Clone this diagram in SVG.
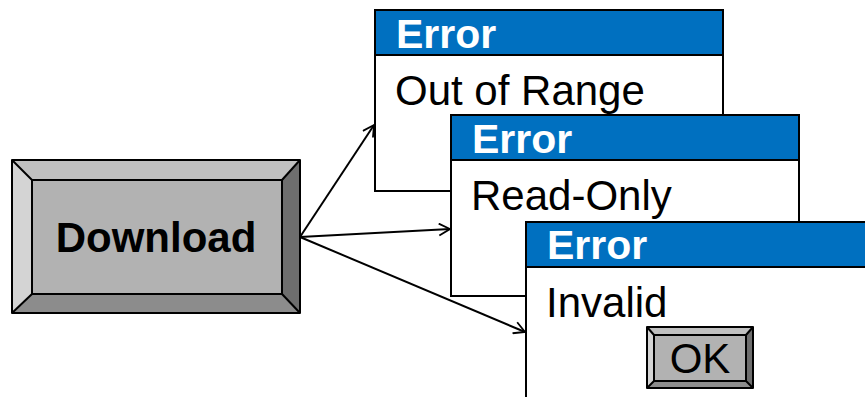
<svg xmlns="http://www.w3.org/2000/svg" width="865" height="397" viewBox="0 0 865 397">
<defs>
<style>
.win{fill:#fff;stroke:#000;stroke-width:2}
.bar{fill:#0070C0;stroke:#000;stroke-width:2}
.ttl{font-family:"Liberation Sans",Arial,sans-serif;font-weight:bold;font-size:41px;fill:#fff}
.msg{font-family:"Liberation Sans",Arial,sans-serif;font-size:42px;fill:#000}
.edge{stroke:#000;stroke-width:2;fill:none}
.bv{stroke:#000;stroke-width:2;stroke-linejoin:round}
</style>
<marker id="arr" markerWidth="14" markerHeight="14" refX="12" refY="7" orient="auto" markerUnits="userSpaceOnUse">
<path d="M1,1 L12,7 L1,13" fill="none" stroke="#000" stroke-width="1.8"/>
</marker>
</defs>
<g id="download">
<rect x="12" y="160" width="288" height="153" fill="#b2b2b2"/>
<polygon points="12,160 300,160 282,180 32,180" fill="#c0c0c0"/>
<polygon points="12,160 32,180 32,294 12,313" fill="#d4d4d4"/>
<polygon points="300,160 300,313 282,294 282,180" fill="#6e6e6e"/>
<polygon points="12,313 32,294 282,294 300,313" fill="#8c8c8c"/>
<g class="bv" fill="none">
<rect x="12" y="160" width="288" height="153"/>
<rect x="32" y="180" width="250" height="114"/>
<line x1="12" y1="160" x2="32" y2="180"/>
<line x1="300" y1="160" x2="282" y2="180"/>
<line x1="12" y1="313" x2="32" y2="294"/>
<line x1="300" y1="313" x2="282" y2="294"/>
</g>
<text x="156" y="252" text-anchor="middle" font-family="Liberation Sans,Arial,sans-serif" font-weight="bold" font-size="42">Download</text>
</g>
<g id="connectors">
<line class="edge" x1="300" y1="237" x2="374" y2="125" marker-end="url(#arr)"/>
<line class="edge" x1="300" y1="237" x2="450" y2="229" marker-end="url(#arr)"/>
<line class="edge" x1="300" y1="237" x2="525" y2="332" marker-end="url(#arr)"/>
</g>
<g id="error1">
<rect class="win" x="375" y="10" width="348" height="181"/>
<rect class="bar" x="375" y="10" width="348" height="45"/>
<text class="ttl" x="396" y="48">Error</text>
<text class="msg" x="395" y="105">Out of Range</text>
</g>
<g id="error2">
<rect class="win" x="451" y="115" width="348" height="181"/>
<rect class="bar" x="451" y="115" width="348" height="45"/>
<text class="ttl" x="472" y="153">Error</text>
<text class="msg" x="471" y="210">Read-Only</text>
</g>
<g id="error3">
<rect class="win" x="526" y="222" width="360" height="200"/>
<rect class="bar" x="526" y="222" width="360" height="45"/>
<text class="ttl" x="547" y="259">Error</text>
<text class="msg" x="546" y="317">Invalid</text>
<g id="ok">
<rect x="647" y="327" width="106" height="61" fill="#b2b2b2"/>
<polygon points="647,327 753,327 746,335 654,335" fill="#c0c0c0"/>
<polygon points="647,327 654,335 654,381 647,388" fill="#d4d4d4"/>
<polygon points="753,327 753,388 746,381 746,335" fill="#6e6e6e"/>
<polygon points="647,388 654,381 746,381 753,388" fill="#8c8c8c"/>
<g class="bv" fill="none">
<rect x="647" y="327" width="106" height="61"/>
<rect x="654" y="335" width="92" height="46"/>
<line x1="647" y1="327" x2="654" y2="335"/>
<line x1="753" y1="327" x2="746" y2="335"/>
<line x1="647" y1="388" x2="654" y2="381"/>
<line x1="753" y1="388" x2="746" y2="381"/>
</g>
<text x="700" y="373" text-anchor="middle" font-family="Liberation Sans,Arial,sans-serif" font-size="42">OK</text>
</g>
</g>
</svg>
